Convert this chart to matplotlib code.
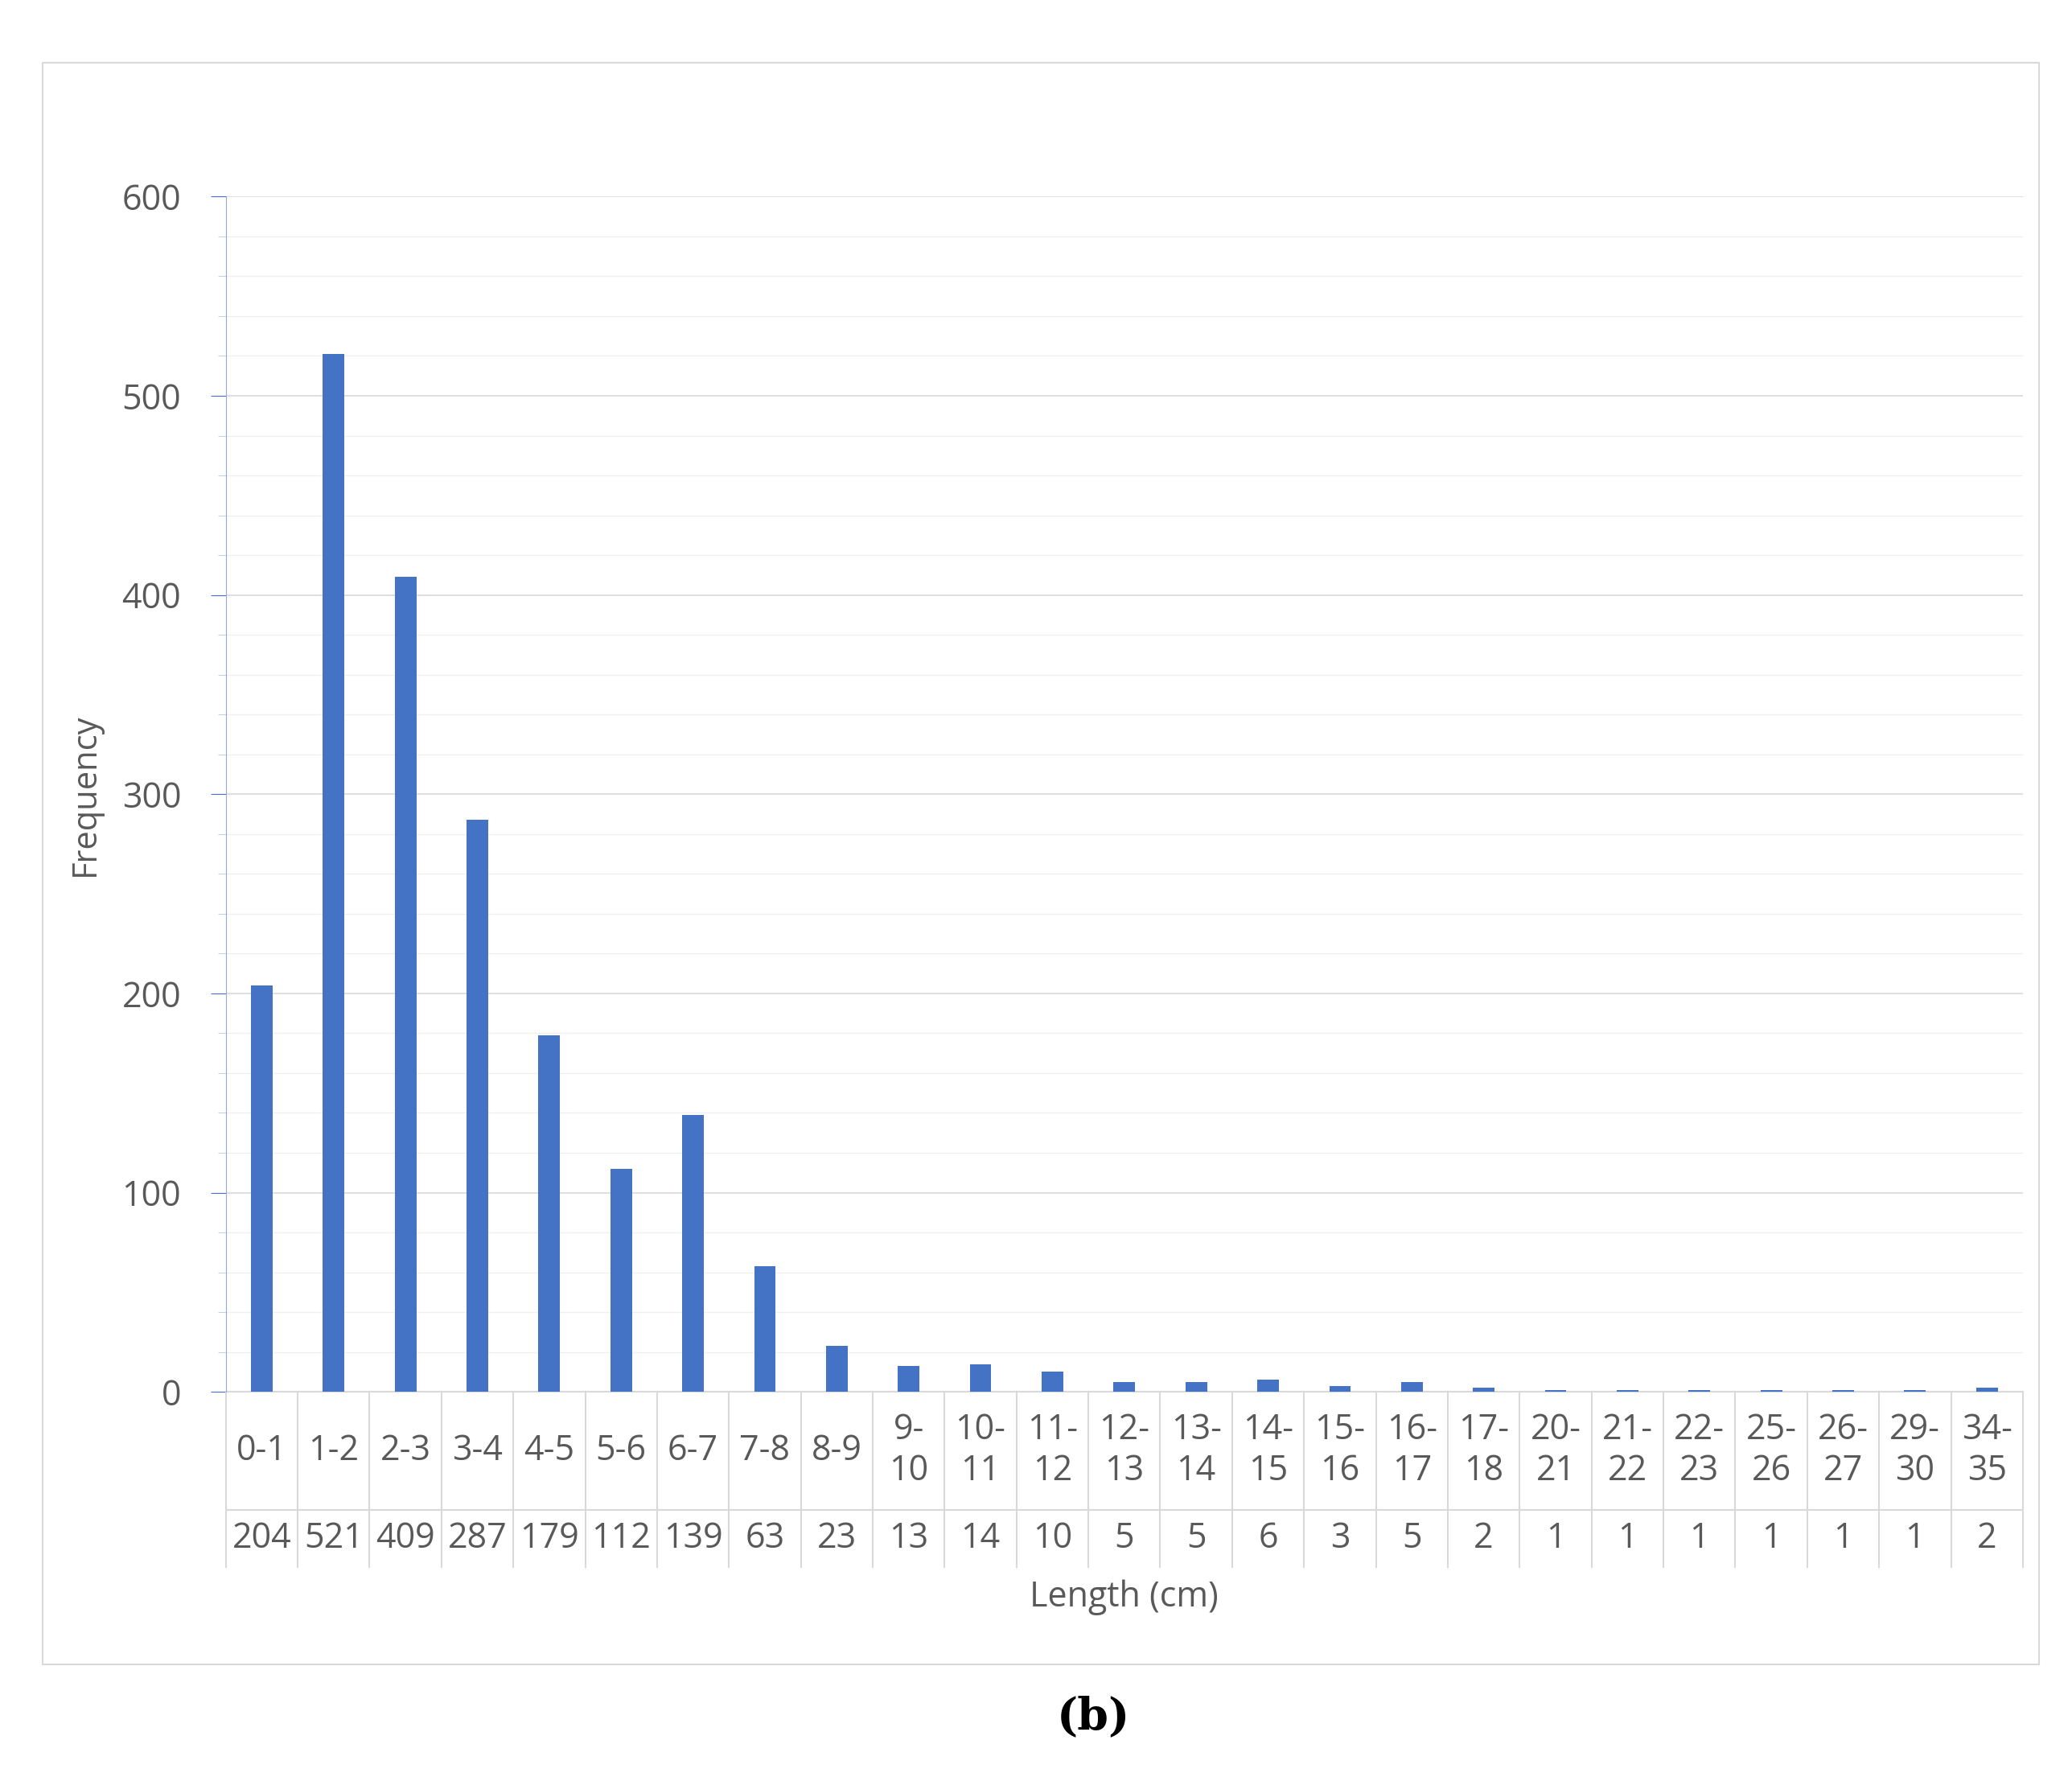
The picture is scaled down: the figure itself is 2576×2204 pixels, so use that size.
import matplotlib.pyplot as plt
from matplotlib.patches import Rectangle
import numpy as np

categories = ['0-1', '1-2', '2-3', '3-4', '4-5', '5-6', '6-7', '7-8', '8-9', '9-\n10', '10-\n11',
              '11-\n12', '12-\n13', '13-\n14', '14-\n15', '15-\n16', '16-\n17', '17-\n18', '20-\n21',
              '21-\n22', '22-\n23', '25-\n26', '26-\n27', '29-\n30', '34-\n35']
frequency = [204, 521, 409, 287, 179, 112, 139, 63, 23, 13, 14, 10, 5, 5, 6, 3, 5, 2, 1, 1, 1, 1, 1, 1, 2]

W, H = 1560, 1335
fig = plt.figure(figsize=(25.76, 22.04), dpi=100)
plt.rcParams['font.family'] = ['Open Sans', 'DejaVu Sans']

# outer frame
fig.patches.append(Rectangle((32 / W, 1 - 1253 / H), (1535 - 32) / W, (1253 - 47) / H,
                             transform=fig.transFigure, fill=False, edgecolor='#d9d9d9', lw=1.5))

ax = fig.add_axes([170 / W, 1 - 1048 / H, (1523 - 170) / W, (1048 - 148) / H])
n = len(categories)
x = np.arange(n)
ax.bar(x, frequency, width=0.3, color='#4472C4', zorder=3)
ax.set_xlim(-0.5, n - 0.5)
ax.set_ylim(0, 600)
ax.set_yticks(range(0, 601, 100))
ax.set_yticks(range(0, 601, 20), minor=True)
ax.grid(axis='y', which='major', color='#d9d9d9', lw=1.2, zorder=0)
ax.grid(axis='y', which='minor', color='#f0f0f0', lw=1.0, zorder=0)
for s in ['top', 'right', 'bottom']:
    ax.spines[s].set_visible(False)
ax.spines['left'].set_color('#8eaadb')
ax.tick_params(axis='y', which='major', length=14, color='#4472C4', labelsize=31, labelcolor='#595959', pad=26)
ax.tick_params(axis='y', which='minor', length=7, color='#b4c7e7')
ax.set_xticks([])
ax.set_ylabel('Frequency', fontsize=30, color='#595959', labelpad=18)

# data table below the axis
row1 = (1137 - 1048) / (1048 - 148)
row2 = (1180 - 1048) / (1048 - 148)
tr = ax.get_xaxis_transform()
line_kw = dict(color='#d9d9d9', lw=1.5, transform=tr, clip_on=False)
ax.plot([-0.5, n - 0.5], [0, 0], **line_kw)
ax.plot([-0.5, n - 0.5], [-row1, -row1], **line_kw)
for b in np.arange(n + 1) - 0.5:
    ax.plot([b, b], [0, -row2], **line_kw)
for i in range(n):
    ax.text(i, -row1 / 2, categories[i], transform=tr, ha='center', va='center',
            fontsize=31, color='#595959', linespacing=1.2)
    ax.text(i, -(row1 + row2) / 2, str(frequency[i]), transform=tr, ha='center', va='center',
            fontsize=31, color='#595959')

fig.text((170 + 1523) / 2 / W, 1 - 1203 / H, 'Length (cm)', ha='center', va='center',
         fontsize=31, color='#595959')
fig.text(823 / W, 1 - 1293 / H, '(b)', ha='center', va='center', fontsize=40,
         fontweight='bold', family='DejaVu Serif')

fig.savefig('out.png', dpi=100)
